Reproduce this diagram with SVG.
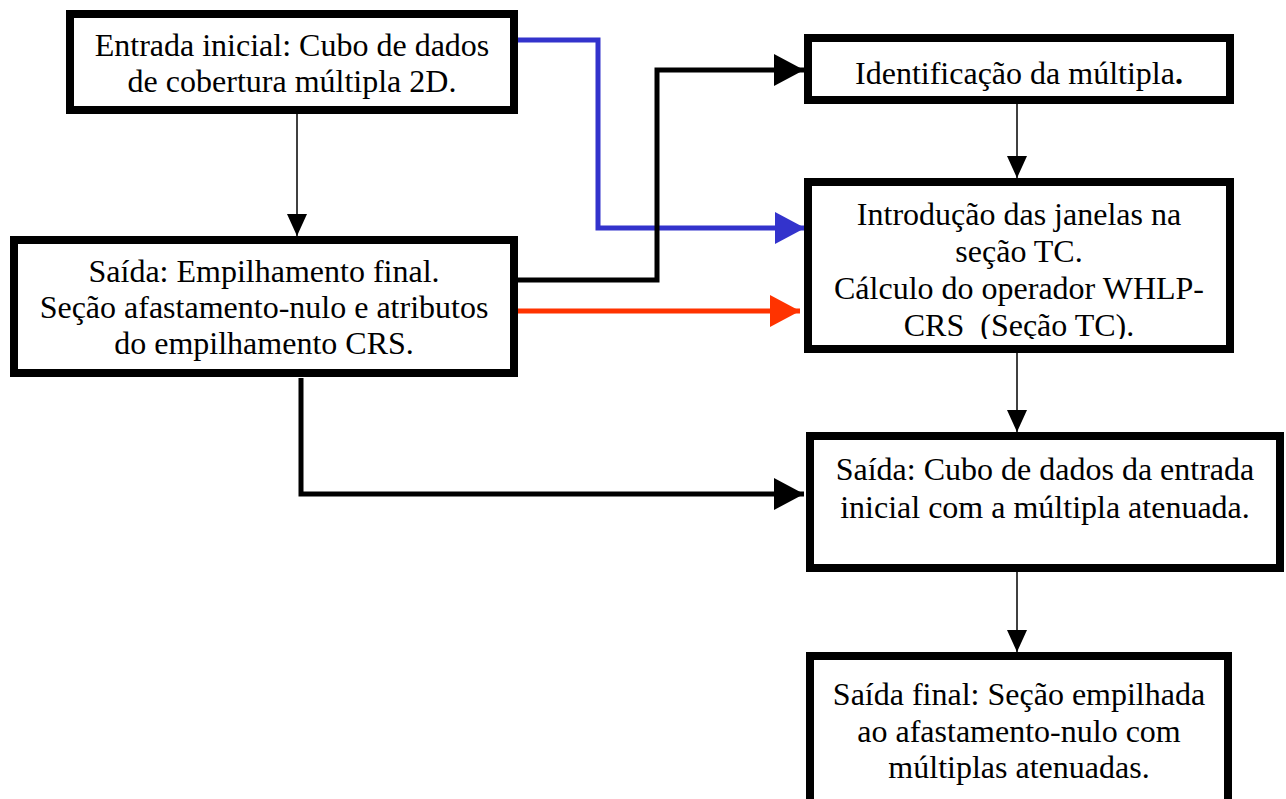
<svg xmlns="http://www.w3.org/2000/svg" width="1286" height="799" viewBox="0 0 1286 799">
<style>
.box{fill:#fff;stroke:#000;stroke-width:8}
.t{font-family:'Liberation Serif','Times New Roman',serif;font-size:32px;fill:#000;text-anchor:middle}
.thin{fill:none;stroke:#000;stroke-width:1.5}
.thick{fill:none;stroke-width:5}
</style>
<defs>
<marker id="ah" viewBox="0 0 30 32" refX="30" refY="16" markerWidth="30" markerHeight="32" markerUnits="userSpaceOnUse" orient="auto"><path d="M0,0 L30,16 L0,32 z" fill="#000"/></marker>
<marker id="ahb" viewBox="0 0 30 32" refX="30" refY="16" markerWidth="30" markerHeight="32" markerUnits="userSpaceOnUse" orient="auto"><path d="M0,0 L30,16 L0,32 z" fill="#3333cc"/></marker>
<marker id="ahr" viewBox="0 0 30 32" refX="30" refY="16" markerWidth="30" markerHeight="32" markerUnits="userSpaceOnUse" orient="auto"><path d="M0,0 L30,16 L0,32 z" fill="#ff3300"/></marker>
<marker id="aht" viewBox="0 0 22 20" refX="22" refY="10" markerWidth="22" markerHeight="20" markerUnits="userSpaceOnUse" orient="auto"><path d="M0,0 L22,10 L0,20 z" fill="#000"/></marker>
<clipPath id="c2"><rect x="18" y="244" width="492" height="117"/></clipPath>
<clipPath id="c4"><rect x="812" y="186" width="414" height="153"/></clipPath>
</defs>
<g id="connectors">
<path class="thin" d="M297,114 V236" marker-end="url(#aht)"/>
<path class="thin" d="M1017,104 V178" marker-end="url(#aht)"/>
<path class="thin" d="M1017,353 V432" marker-end="url(#aht)"/>
<path class="thin" d="M1017,572 V652" marker-end="url(#aht)"/>
<path class="thick" stroke="#3333cc" d="M518,40 H598 V228 H805" marker-end="url(#ahb)"/>
<path class="thick" stroke="#000" d="M518,280 H657 V70 H804" marker-end="url(#ah)"/>
<path class="thick" stroke="#ff3300" d="M518,311 H800" marker-end="url(#ahr)"/>
<path class="thick" stroke="#000" d="M301,378 V494 H804" marker-end="url(#ah)"/>
</g>
<g id="n1">
<rect class="box" x="70" y="14" width="444" height="96"/>
<text class="t" x="292" y="56">Entrada inicial: Cubo de dados</text>
<text class="t" x="292" y="92">de cobertura múltipla 2D.</text>
</g>
<g id="n2">
<rect class="box" x="14" y="240" width="500" height="133"/>
<g clip-path="url(#c2)">
<text class="t" x="264" y="282">Saída: Empilhamento final.</text>
<text class="t" x="264" y="318">Seção afastamento-nulo e atributos</text>
<text class="t" x="264" y="354">do empilhamento CRS.</text>
</g>
</g>
<g id="n3">
<rect class="box" x="808" y="38" width="422" height="62"/>
<text class="t" x="1019" y="84">Identificação da múltipla<tspan font-weight="bold">.</tspan></text>
</g>
<g id="n4">
<rect class="box" x="808" y="182" width="422" height="167"/>
<g clip-path="url(#c4)">
<text class="t" x="1019" y="225">Introdução das janelas na</text>
<text class="t" x="1019" y="262">seção TC.</text>
<text class="t" x="1019" y="299">Cálculo do operador WHLP-</text>
<text class="t" x="1019" y="336" xml:space="preserve">CRS  (Seção TC).</text>
</g>
</g>
<g id="n5">
<rect class="box" x="810" y="436" width="470" height="132"/>
<text class="t" x="1045" y="480">Saída: Cubo de dados da entrada</text>
<text class="t" x="1045" y="518">inicial com a múltipla atenuada.</text>
</g>
<g id="n6">
<rect class="box" x="810" y="656" width="418" height="150"/>
<text class="t" x="1019" y="705">Saída final: Seção empilhada</text>
<text class="t" x="1019" y="742">ao afastamento-nulo com</text>
<text class="t" x="1019" y="778">múltiplas atenuadas.</text>
</g>
</svg>
